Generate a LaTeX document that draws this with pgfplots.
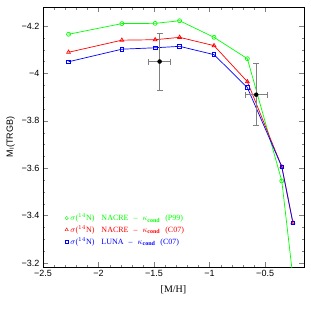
\documentclass[border=0pt]{standalone}
\usepackage{pgfplots}
\pgfplotsset{compat=1.18}
\usepackage{fontspec}
\setmainfont{Liberation Serif}
\setsansfont{Liberation Sans}
\definecolor{cgreen}{rgb}{0,1,0}
\definecolor{cred}{rgb}{1,0,0}
\definecolor{cblue}{rgb}{0,0,1}
\newcommand{\lgentry}[3]{\textcolor{#1}{$\sigma$($^{14}$N)\hspace{7pt}#2\hspace{5pt}--\hspace{5pt}$\kappa_{\mathbf{cond}}$\hspace{5pt}(#3)}}
\begin{document}
\begin{tikzpicture}
\begin{axis}[
  name=ax,
  scale only axis,
  width=261pt, height=260pt,
  xmin=-2.5, xmax=-0.15,
  ymin=-4.28, ymax=-3.183,
  y dir=reverse,
  xtick={-2.5,-2,-1.5,-1,-0.5},
  xticklabels={−2.5,−2,−1.5,−1,−0.5},
  ytick={-4.2,-4,-3.8,-3.6,-3.4,-3.2},
  yticklabels={−4.2,−4,−3.8,−3.6,−3.4,−3.2},
  minor x tick num=4,
  minor y tick num=3,
  tick align=inside,
  xtick pos=both, ytick pos=both,
  major tick length=5pt, minor tick length=2.5pt,
  tick label style={font=\sffamily\small},
  xlabel={[M/H]},
  xlabel style={font=\normalsize, yshift=-2pt},
  ylabel={\sffamily M$_{\mathsf{I}}$(TRGB)},
  ylabel style={font=\small},
  clip=true,
  axis line style={line width=0.6pt},
  legend style={at={(0.072,0.22)}, anchor=north west, draw=none, fill=none,
    font=\footnotesize, row sep=-0.5pt, cells={anchor=west}},
  legend cell align=left,
]
\addlegendimage{only marks, cgreen, mark=o, mark size=1.7pt}
\addlegendentry{\lgentry{cgreen}{NACRE}{P99}}
\addlegendimage{only marks, cred, mark=triangle, mark size=1.9pt}
\addlegendentry{\lgentry{cred}{NACRE}{C07}}
\addlegendimage{only marks, cblue, mark=square, mark size=1.5pt}
\addlegendentry{\lgentry{cblue}{LUNA}{C07}}
\addplot[cgreen, line width=0.7pt, mark=o, mark size=2pt, forget plot] coordinates {
(-2.27,-4.165) (-1.79,-4.21) (-1.49,-4.211) (-1.27,-4.222) (-0.96,-4.152) (-0.66,-4.062) (-0.35,-3.546) (-0.25,-3.14)};
\addplot[cred, line width=0.7pt, mark=triangle, mark size=2.2pt, forget plot] coordinates {
(-2.27,-4.089) (-1.79,-4.14) (-1.49,-4.142) (-1.27,-4.152) (-0.96,-4.117) (-0.66,-3.965) (-0.35,-3.606) (-0.25,-3.37)};
\addplot[cblue, line width=0.7pt, mark=square, mark size=1.8pt, forget plot] coordinates {
(-2.27,-4.049) (-1.79,-4.102) (-1.49,-4.108) (-1.27,-4.114) (-0.96,-4.079) (-0.66,-3.94) (-0.35,-3.606) (-0.25,-3.37)};
\addplot[only marks, mark=*, mark size=2pt, black, forget plot,
  error bars/.cd, x dir=both, x explicit, y dir=both, y explicit,
  error bar style={gray, line width=0.8pt},
  error mark options={gray, line width=0.8pt, mark size=3pt, rotate=90}]
  coordinates {
  (-1.45,-4.05) +- (0.10,0.12)
  (-0.58,-3.91) +- (0.10,0.13)
};
\end{axis}
\pgfresetboundingbox
\path[use as bounding box] ([shift={(-43pt,-44pt)}]ax.south west) rectangle ([shift={(7pt,7pt)}]ax.north east);
\end{tikzpicture}
\end{document}
